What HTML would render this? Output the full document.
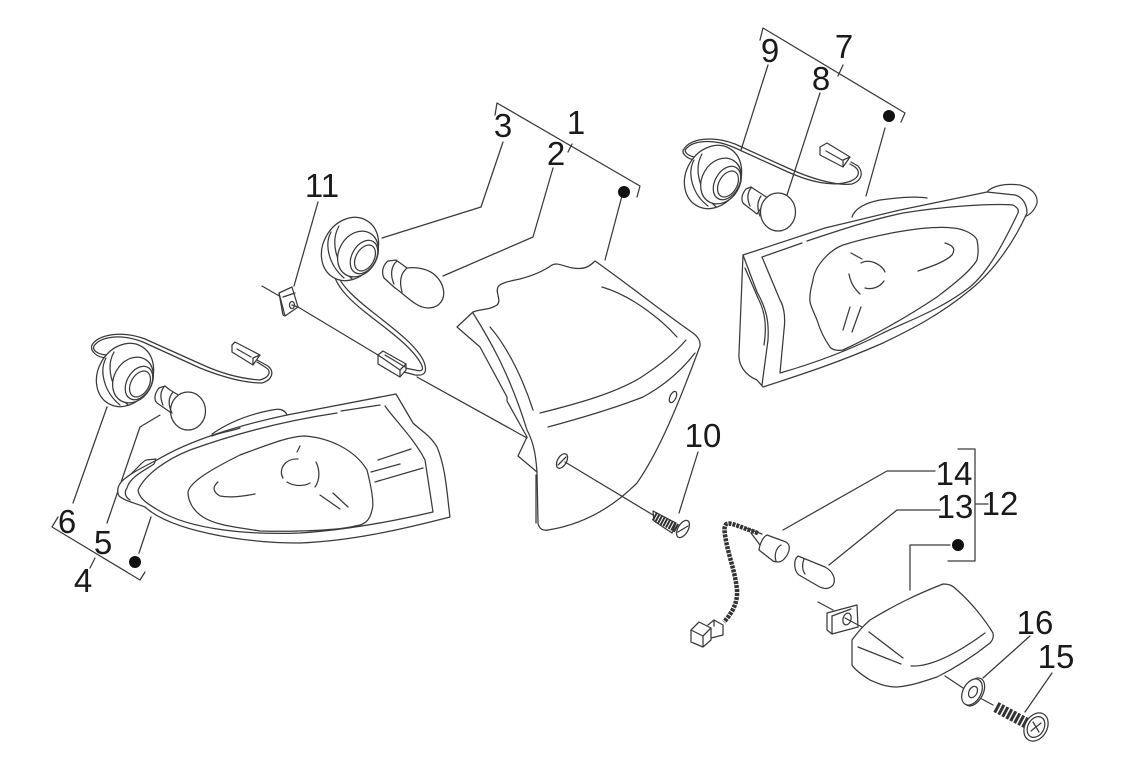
<!DOCTYPE html>
<html><head><meta charset="utf-8"><style>
html,body{margin:0;padding:0;background:#fff}
svg{display:block}
.l path,.l line,.l ellipse,.l polyline,.l polygon{fill:none;stroke:#3a3a3a;stroke-width:1.25;stroke-linejoin:round;stroke-linecap:round}
.l .f{fill:#fff}
.l .th{stroke:#333;stroke-linecap:butt}
text{font-family:"Liberation Sans",sans-serif;font-size:33px;fill:#1a1a1a;text-anchor:middle}
</style></head><body>
<svg width="1124" height="768" viewBox="0 0 1124 768" xmlns="http://www.w3.org/2000/svg">
<g class="l">
<!-- leaders and brackets -->
<path d="M495 115L497 103L640 186L637 197M572 144L568 152M623 192L605 260"/>
<path d="M503 142L481 207L382 238M553 168L533 237L443 276M318 202L294 286"/>
<path d="M262 286L281 297M298 307L378 355M417 377L527 438"/>
<path d="M565 462L653 515M698 452L679 513"/>
<path d="M52 527L58 517M52 527L140 580L145 572M95 558L90 568M151 517L139 553"/>
<path d="M160 415L140 427L107 523M107 407L73 503"/>
<path d="M760 40L763 28L905 113L901 122M843 65L838 76M885 128L866 196M768 65L741 150M820 93L787 195"/>
<path d="M958 449H975V561H948M975 504H988"/>
<path d="M935 471H887L783 530M940 510H897L829 565M950 545H910V590"/>
<path d="M1030 636L983 678M1052 673L1025 712M945 676L963 688M980 698L993 705"/>

<!-- centre housing -->
<path d="M595 261C590 266 585 270 573 268C565 267 558 262 552 265C545 270 535 275 520 279C510 281 500 283 498 287C495 293 502 300 497 305C490 310 480 309 473 312L457 327L480 347L507 397V401L527 437L518 456L537 472L538 523C539 529 543 531 548 530C580 525 610 510 637 483C660 450 680 400 700 346C701 340 697 336 693 333C660 310 625 282 595 261Z"/>
<path d="M602 287C630 295 660 318 677 337M540 413C580 403 615 393 640 378C660 365 675 353 686 340M548 427C585 417 615 408 643 397C665 385 682 370 695 353"/>
<path d="M473 313C490 340 510 375 527 430C535 445 536 460 537 472M490 327C510 350 525 385 533 410"/>
<path d="M536 475V523" />
<ellipse cx="562" cy="461" rx="4.5" ry="8" transform="rotate(30 562 461)"/>
<path d="M558 465L566 457"/>
<ellipse cx="673" cy="397" rx="3" ry="6" transform="rotate(25 673 397)"/>

<!-- screw 10 -->
<path d="M653 511L676 523L672 533L654 521Z" class="f"/>
<line class="th" x1="654" y1="516" x2="678" y2="529" style="stroke-width:9;stroke-dasharray:2 1"/>
<ellipse cx="683" cy="529" rx="5" ry="9.5" transform="rotate(30 683 529)" class="f"/>
<path d="M678 532L688 526"/>

<!-- centre socket and wire -->
<path d="M335 278C340 290 350 300 365 312C385 328 410 345 420 362C425 370 422 372 415 370L405 368M339 278C344 288 355 298 370 310C390 326 417 345 424 362C428 373 424 376 415 375L404 372"/>
<ellipse cx="350" cy="249" rx="27" ry="33" transform="rotate(30 350 249)" class="f"/>
<path d="M331 232C324 245 329 265 344 278M339 226C331 240 334 262 352 279"/>
<ellipse cx="358" cy="254" rx="19" ry="24" transform="rotate(30 358 254)" class="f"/>
<ellipse cx="364" cy="257" rx="12" ry="18" transform="rotate(30 364 257)" class="f"/>
<ellipse cx="365" cy="258" rx="9" ry="14" transform="rotate(30 365 258)"/>
<polygon points="378,355 383,351 406,364 406,370 400,377 378,364" class="f"/>
<path d="M385 355L405 367M400 377V370L406 364M378 355L400 370"/>

<!-- bulb 2 -->
<path d="M388 261L396 260L407 268C415 267 428 268 436 276C444 284 446 295 441 302C436 309 425 310 416 304C408 299 400 291 395 288L384 278C381 272 383 265 388 261Z" class="f"/>
<path d="M407 268C401 273 399 281 402 292M397 261C391 266 390 275 394 284"/>

<!-- clip 11 -->
<path d="M279 293L292 287L298 307L285 316Z" class="f"/>
<path d="M279 293L283 315L285 316M283 297L295 293"/>
<ellipse cx="292" cy="305" rx="2.500" ry="3.500"/>
<path d="M292 305L298 307"/>

<!-- left wire socket bulb -->
<path d="M106 355C97 354 92 350 94 346C100 337 120 333 143 342L200 368C225 378 245 383 262 383C272 380 275 372 268 366L257 360M106 358C95 357 90 350 92 345C98 335 120 330 145 339L203 365C225 375 245 379 260 380C270 377 272 371 265 367L257 362"/>
<path d="M232 345L235 342L260 355L253 365L232 352ZM253 365V358L260 355M237 349L251 357"/>
<ellipse cx="125" cy="375" rx="27" ry="33" transform="rotate(30 125 375)" class="f"/>
<path d="M106 358C99 371 104 392 120 405M114 352C106 366 110 388 128 405"/>
<ellipse cx="133" cy="380" rx="19" ry="24" transform="rotate(30 133 380)" class="f"/>
<ellipse cx="139" cy="383" rx="12" ry="18" transform="rotate(30 139 383)" class="f"/>
<ellipse cx="140" cy="384" rx="9" ry="14" transform="rotate(30 140 384)"/>
<path d="M165 386L159 388C154 394 154 400 157 403L170 412L180 396L170 390Z" class="f"/>
<ellipse cx="188" cy="411" rx="17.500" ry="19" class="f"/>
<path d="M173 392C168 398 168 405 172 413M164 387C160 392 160 398 163 405"/>

<!-- left lamp -->
<path d="M396 394L287 415C240 425 190 440 157 460C145 466 133 472 127 477C118 483 116 490 119 496C125 501 135 503 145 507C170 530 240 543 300 543C350 541 400 530 450 517C447 495 446 468 437 447C430 435 420 430 413 423Z" class="f"/>
<path d="M380 405L341 411M337 413C290 420 240 432 190 450C165 460 145 475 138 490C139 498 146 503 158 510C190 530 250 535 300 533C345 530 390 522 433 512L425 460C415 440 395 420 385 406"/>
<path d="M127 477C135 472 140 463 146 460L156 459L154 464C145 470 130 477 127 488C124 492 125 497 130 500"/>
<path d="M212 434C225 425 245 415 272 410C280 408 285 410 287 415M212 436C222 432 232 431 240 428"/>
<path d="M188 492C190 482 210 470 240 455C270 444 290 436 305 436C330 438 355 450 367 470C372 490 374 505 372 510C370 520 365 525 355 526C340 530 300 532 260 531C235 527 215 525 203 517C192 510 188 500 188 492Z"/>
<path d="M218 482C212 487 213 492 220 496C230 498 245 496 255 494M300 446L297 452M298 459C285 458 278 470 283 478M287 482C295 487 305 486 310 483M316 462C320 470 320 480 315 487M320 495L340 509M333 493L348 507M378 460L411 449M371 472L400 464M375 482L423 468"/>

<!-- right wire socket bulb -->
<path d="M694 160C685 158 681 152 684 149C690 139 712 135 735 144L790 169C810 178 835 186 852 184C863 180 863 172 858 166L851 162M694 157C686 155 684 151 686 149C692 141 712 138 733 147L788 172C808 181 833 188 851 181C860 177 860 171 855 167L850 164"/>
<path d="M820 147L827 143L850 157L843 167L820 155ZM843 167V160L850 157M826 151L842 160"/>
<ellipse cx="713" cy="177" rx="27" ry="33" transform="rotate(30 713 177)" class="f"/>
<path d="M694 160C687 173 692 194 708 206M702 154C694 168 698 190 716 207"/>
<ellipse cx="721" cy="181" rx="19" ry="24" transform="rotate(30 721 181)" class="f"/>
<ellipse cx="727" cy="183" rx="12" ry="18" transform="rotate(30 727 183)" class="f"/>
<ellipse cx="728" cy="184" rx="9" ry="14" transform="rotate(30 728 184)"/>
<path d="M751 187L746 189C741 195 741 201 744 204L757 214L768 198L757 191Z" class="f"/>
<ellipse cx="778" cy="212" rx="17.500" ry="19" class="f"/>
<path d="M761 196C757 202 757 208 760 216M751 188C747 193 747 199 750 206"/>

<!-- right lamp -->
<path d="M852 217C855 208 865 203 880 200C895 198 915 196 927 198"/>
<path d="M987 192C992 186 1005 183 1020 185C1032 188 1038 195 1037 203C1035 210 1030 215 1024 217"/>
<path d="M743 255L825 228L900 210L987 192L1015 195C1023 197 1027 205 1027 213C1015 240 995 270 970 290C940 315 910 330 883 343C840 362 800 375 763 387L757 380C745 375 738 365 739 353Z" class="f"/>
<path d="M743 255L757 292C767 310 769 322 768 340L762 385"/>
<path d="M745 268L758 298C765 312 767 325 764 345"/>
<path d="M762 257L802 243M807 241C840 230 870 220 903 213C940 207 990 203 1013 205C1018 208 1019 210 1018 213C1005 240 990 270 970 287C940 310 910 320 883 333C850 350 815 363 780 373L784 330C786 315 783 305 780 300L762 257"/>
<path d="M813 280C815 265 830 250 843 245C875 235 925 225 953 228C965 229 975 235 977 240C979 250 978 255 977 260C970 272 950 287 937 297C910 315 875 335 843 350C838 351 832 350 830 347C825 340 820 330 817 320C812 308 809 303 810 297C810 290 812 285 813 280Z"/>
<path d="M851 253L862 259M861 263C870 258 882 265 885 272M884 281C880 287 872 290 865 288M849 274C851 285 856 290 860 294M850 307L843 330M861 307L852 332M918 271C930 267 945 262 952 255C955 250 955 246 945 243"/>

<!-- wire 14 -->
<path class="th" d="M758 533C748 530 740 526 732 524C724 522 724 527 725 535C728 555 735 570 737 590C738 605 730 615 724 622" style="stroke-width:4.500;stroke-dasharray:3 1"/>
<path d="M746 528L762 534M751 533L760 545"/>
<path d="M767 535L786 542C791 545 790 552 785 558C782 562 778 563 773 561L759 550C760 543 763 537 767 535Z" class="f"/>
<path d="M781 545C776 548 774 555 776 561"/>
<path d="M691 630L699 622L711 628V640L703 647L691 642ZM691 630L703 636V647M703 636L711 628M708 625L714 620L723 625V635L711 638M714 620V626"/>

<!-- bulb 13 -->
<path d="M798 556L825 567C834 572 836 580 833 585C829 590 823 589 818 586L799 575C794 571 793 560 798 556Z" class="f"/>
<path d="M804 559C802 564 802 570 805 574"/>

<!-- clip 12 -->
<path d="M818 602L833 610M827 613L857 605L858 627L832 634L827 630ZM832 616V634M832 616L851 609"/>
<ellipse cx="847" cy="619" rx="4" ry="6" transform="rotate(15 847 619)"/>
<path d="M845 618L862 627"/>

<!-- small lamp -->
<path d="M852 640C858 632 862 627 870 620C895 605 915 595 943 584C950 584 953 586 957 590C972 603 985 620 993 633C994 638 992 641 990 643C975 655 955 668 937 677C922 682 910 686 897 687C885 687 877 683 870 680C862 675 855 670 852 665Z" class="f"/>
<path d="M869 632L903 658M858 647L901 664M911 666C930 667 955 655 985 633"/>

<!-- washer -->
<ellipse cx="974" cy="692" rx="9" ry="15" transform="rotate(28 974 692)" class="f" />
<ellipse cx="972" cy="692" rx="9" ry="14" transform="rotate(28 972 692)" class="f"/>
<ellipse cx="973" cy="692" rx="4" ry="6" transform="rotate(28 973 692)"/>

<!-- screw 15 -->
<line class="th" x1="996" y1="707" x2="1028" y2="724" style="stroke-width:11;stroke-dasharray:3 1.500"/>
<ellipse cx="1036" cy="727" rx="11" ry="15" transform="rotate(30 1036 727)" class="f"/>
<ellipse cx="1036" cy="727" rx="8" ry="11" transform="rotate(30 1036 727)"/>
<path d="M1031 731L1041 723M1033 722L1039 732" />
</g>
<circle cx="624" cy="192" r="6" fill="#111"/>
<circle cx="889" cy="116" r="6" fill="#111"/>
<circle cx="135" cy="562" r="6" fill="#111"/>
<circle cx="958" cy="545" r="6" fill="#111"/>
<text x="576" y="134">1</text>
<text x="556" y="165">2</text>
<text x="503" y="137">3</text>
<text x="83" y="592">4</text>
<text x="103" y="554">5</text>
<text x="67" y="533">6</text>
<text x="844" y="58">7</text>
<text x="821" y="90">8</text>
<text x="770" y="62">9</text>
<text x="703" y="447">10</text>
<text x="322" y="197">11</text>
<text x="1000" y="515">12</text>
<text x="955" y="518">13</text>
<text x="954" y="485">14</text>
<text x="1056" y="668">15</text>
<text x="1035" y="634">16</text>
</svg>
</body></html>
